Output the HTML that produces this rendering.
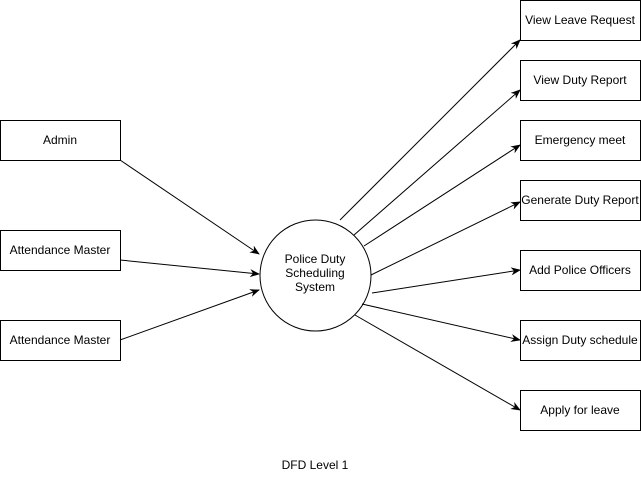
<!DOCTYPE html>
<html><head><style>
body{margin:0;background:#fff;width:641px;height:482px;overflow:hidden}
svg text{font-family:"Liberation Sans",sans-serif;font-size:12px;fill:#000}
</style></head><body>
<svg width="641" height="482" xmlns="http://www.w3.org/2000/svg">
<defs><marker id="a" markerWidth="10" markerHeight="8" refX="9" refY="4" orient="auto" markerUnits="userSpaceOnUse"><path d="M0,0 L10,4 L0,8 L3,4 Z" fill="#000"/></marker></defs>
<g fill="#fff" stroke="#000" stroke-width="1">
<rect x="0.5" y="120.5" width="120" height="40"/>
<rect x="0.5" y="230.5" width="120" height="40"/>
<rect x="0.5" y="320.5" width="120" height="40"/>
<rect x="520.5" y="0.5" width="120" height="40"/>
<rect x="520.5" y="60.5" width="120" height="40"/>
<rect x="520.5" y="120.5" width="120" height="40"/>
<rect x="520.5" y="180.5" width="120" height="40"/>
<rect x="520.5" y="250.5" width="120" height="40"/>
<rect x="520.5" y="320.5" width="120" height="40"/>
<rect x="520.5" y="390.5" width="120" height="40"/>
<circle cx="315.5" cy="275.5" r="55.5"/>
</g>
<g stroke="#000" stroke-width="1" marker-end="url(#a)">
<line x1="120" y1="160" x2="259" y2="254"/>
<line x1="120" y1="260" x2="259" y2="274"/>
<line x1="120" y1="340" x2="259" y2="290"/>
<line x1="340" y1="220" x2="520" y2="40"/>
<line x1="354" y1="235" x2="520" y2="90"/>
<line x1="364" y1="246" x2="520" y2="145"/>
<line x1="371" y1="275" x2="520" y2="202"/>
<line x1="372" y1="293" x2="520" y2="270"/>
<line x1="362" y1="304" x2="520" y2="340"/>
<line x1="355" y1="315" x2="520" y2="410"/>
</g>
<g text-anchor="middle">
<text x="60" y="144">Admin</text>
<text x="60" y="254">Attendance Master</text>
<text x="60" y="344">Attendance Master</text>
<text x="580" y="24">View Leave Request</text>
<text x="580" y="84">View Duty Report</text>
<text x="580" y="144">Emergency meet</text>
<text x="580" y="204">Generate Duty Report</text>
<text x="580" y="274">Add Police Officers</text>
<text x="580" y="344">Assign Duty schedule</text>
<text x="580" y="414">Apply for leave</text>
<text x="315" y="263">Police Duty</text>
<text x="315" y="277">Scheduling</text>
<text x="315" y="291">System</text>
<text x="315" y="469">DFD Level 1</text>
</g>
</svg>
</body></html>
